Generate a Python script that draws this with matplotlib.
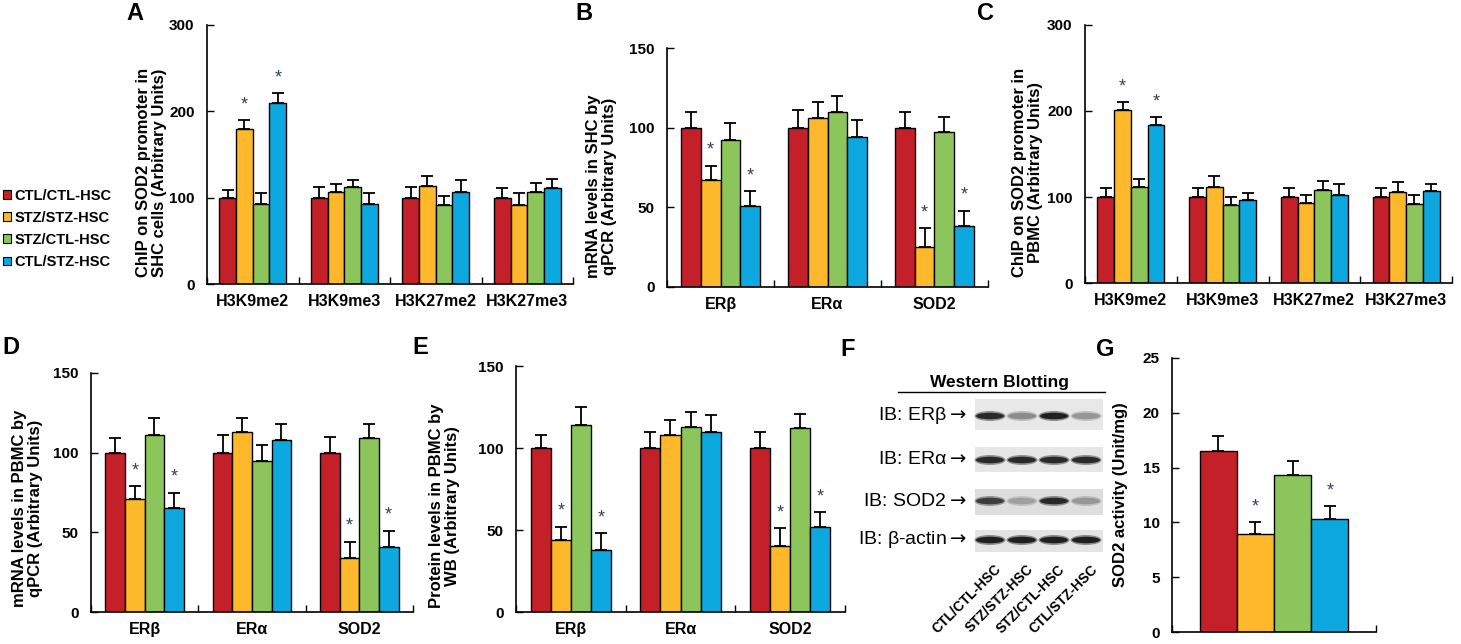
import numpy as np
import matplotlib
matplotlib.use("Agg")
import matplotlib.pyplot as plt
from matplotlib.patches import Patch, Ellipse, Rectangle
from matplotlib.ticker import NullFormatter

plt.rcParams['font.family'] = ['Liberation Sans', 'DejaVu Sans']

W, H = 1461, 644

GROUPS = ["CTL/CTL-HSC", "STZ/STZ-HSC", "STZ/CTL-HSC", "CTL/STZ-HSC"]
COLORS = ["#C4202A", "#FDB92B", "#8CC55B", "#0EA8E0"]
STAR_COLOR = "#35405C"

# panel A: ChIP in SHC cells
a_cats = ["H3K9me2", "H3K9me3", "H3K27me2", "H3K27me3"]
a_ctl_ctl = [100, 100, 100, 100]
a_stz_stz = [179, 106, 113, 92]
a_stz_ctl = [93, 112, 92, 106]
a_ctl_stz = [210, 93, 107, 111]
a_err = [[9, 12, 12, 11], [11, 10, 12, 13], [12, 9, 10, 11], [11, 12, 13, 11]]
a_stars = [(0, 1), (0, 3)]

# panel B: mRNA in SHC
b_cats = ["ERβ", "ERα", "SOD2"]
b_ctl_ctl = [100, 100, 100]
b_stz_stz = [67, 106, 25]
b_stz_ctl = [92, 110, 97]
b_ctl_stz = [51, 94, 38]
b_err = [[10, 11, 10], [9, 10, 12], [11, 10, 10], [9, 11, 10]]
b_stars = [(0, 1), (0, 3), (2, 1), (2, 3)]

# panel C: ChIP in PBMC
c_cats = ["H3K9me2", "H3K9me3", "H3K27me2", "H3K27me3"]
c_ctl_ctl = [100, 100, 100, 100]
c_stz_stz = [201, 112, 93, 106]
c_stz_ctl = [112, 91, 108, 92]
c_ctl_stz = [184, 96, 102, 107]
c_err = [[10, 10, 10, 10], [9, 12, 9, 11], [9, 9, 11, 10], [9, 9, 13, 8]]
c_stars = [(0, 1), (0, 3)]

# panel D: mRNA in PBMC
d_cats = ["ERβ", "ERα", "SOD2"]
d_ctl_ctl = [100, 100, 100]
d_stz_stz = [71, 113, 34]
d_stz_ctl = [111, 95, 109]
d_ctl_stz = [65, 108, 41]
d_err = [[9, 11, 10], [8, 9, 10], [11, 10, 9], [10, 10, 10]]
d_stars = [(0, 1), (0, 3), (2, 1), (2, 3)]

# panel E: protein in PBMC
e_cats = ["ERβ", "ERα", "SOD2"]
e_ctl_ctl = [100, 100, 100]
e_stz_stz = [44, 108, 40]
e_stz_ctl = [114, 113, 112]
e_ctl_stz = [38, 110, 52]
e_err = [[8, 10, 10], [8, 9, 11], [11, 9, 9], [10, 10, 9]]
e_stars = [(0, 1), (0, 3), (2, 1), (2, 3)]

# panel G: SOD2 activity
g_values = [16.5, 8.9, 14.3, 10.3]
g_err = [1.4, 1.1, 1.3, 1.2]
g_stars = [(0, 1), (0, 3)]

# panel F: western blot band strength (0 = none, 1 = dark)
blot_labels = ["IB: ERβ", "IB: ERα", "IB: SOD2", "IB: β-actin"]
band_erb = [0.95, 0.45, 1.0, 0.4]
band_era = [0.95, 0.95, 0.95, 0.95]
band_sod2 = [0.85, 0.35, 0.95, 0.4]
band_actin = [1.0, 1.0, 1.0, 1.0]


def px_axes(fig, left, top, right, bottom):
    return fig.add_axes([left / W, 1 - bottom / H, (right - left) / W, (bottom - top) / H])


def draw_groups(ax, cats, series, errs, stars, ymax, step, ylabel, lab_x, lab_y):
    x = np.arange(len(cats))
    width = 0.73 / len(series)
    tops = {}
    for k, (vals, err) in enumerate(zip(series, errs)):
        pos = x + (k - (len(series) - 1) / 2) * width
        vals = np.asarray(vals, dtype=float)
        err = np.asarray(err, dtype=float)
        ax.bar(pos, vals, width, color=COLORS[k], edgecolor="black", linewidth=1.0, zorder=2)
        ax.errorbar(pos, vals, yerr=[np.zeros_like(err), err], fmt="none", ecolor="black",
                    elinewidth=1.3, capsize=4, capthick=1.3, zorder=3)
        for i in range(len(cats)):
            tops[(i, k)] = (pos[i], vals[i] + err[i])
    for key in stars:
        px, py = tops[key]
        ax.annotate("*", (px, py), xytext=(0, 5), textcoords="offset points",
                    ha="center", va="bottom", fontsize=13, color=STAR_COLOR)

    ax.set_xlim(-0.5, len(cats) - 0.5)
    ax.set_ylim(0, ymax)
    ax.set_yticks(np.arange(0, ymax + step / 2, step))
    ax.set_xticks(np.arange(len(cats) + 1) - 0.5)
    ax.xaxis.set_major_formatter(NullFormatter())
    ax.set_xticks(x, minor=True)
    ax.set_xticklabels(cats, minor=True, fontsize=11.5, fontweight="bold")
    ax.tick_params(axis="x", which="major", direction="in", length=5, width=1)
    ax.tick_params(axis="x", which="minor", length=0, pad=7)
    ax.tick_params(axis="y", direction="in", length=5, width=1, pad=9, labelsize=11)
    for lab in ax.get_yticklabels():
        lab.set_fontweight("bold")
    for s in ["top", "right"]:
        ax.spines[s].set_visible(False)
    for s in ["left", "bottom"]:
        ax.spines[s].set_linewidth(1.2)
    ax.set_ylabel(ylabel, fontsize=12, fontweight="bold", linespacing=1.1)
    ax.yaxis.set_label_coords(lab_x, lab_y)


fig = plt.figure(figsize=(W / 100, H / 100), dpi=100)

ax_a = px_axes(fig, 207, 25, 573, 284)
draw_groups(ax_a, a_cats, [a_ctl_ctl, a_stz_stz, a_stz_ctl, a_ctl_stz], a_err, a_stars,
            300, 100, "ChIP on SOD2 promoter in\nSHC cells (Arbitrary Units)", -0.109, 0.43)

ax_b = px_axes(fig, 667, 48, 988, 287)
draw_groups(ax_b, b_cats, [b_ctl_ctl, b_stz_stz, b_stz_ctl, b_ctl_stz], b_err, b_stars,
            150, 50, "mRNA levels in SHC by\nqPCR (Arbitrary Units)", -0.156, 0.42)

ax_c = px_axes(fig, 1085, 25, 1452, 283)
draw_groups(ax_c, c_cats, [c_ctl_ctl, c_stz_stz, c_stz_ctl, c_ctl_stz], c_err, c_stars,
            300, 100, "ChIP on SOD2 promoter in\nPBMC (Arbitrary Units)", -0.114, 0.43)

ax_d = px_axes(fig, 91, 373, 413, 612)
draw_groups(ax_d, d_cats, [d_ctl_ctl, d_stz_stz, d_stz_ctl, d_ctl_stz], d_err, d_stars,
            150, 50, "mRNA levels in PBMC by\nqPCR (Arbitrary Units)", -0.149, 0.435)

ax_e = px_axes(fig, 516, 366, 845, 612)
draw_groups(ax_e, e_cats, [e_ctl_ctl, e_stz_stz, e_stz_ctl, e_ctl_stz], e_err, e_stars,
            150, 50, "Protein levels in PBMC by\nWB (Arbitrary Units)", -0.17, 0.43)

ax_g = px_axes(fig, 1172, 358, 1376, 632)
draw_groups(ax_g, [""], [[v] for v in g_values], [[e] for e in g_err], g_stars,
            25, 5, "SOD2 activity (Unit/mg)", -0.216, 0.5)

# legend
handles = [Patch(facecolor=c, edgecolor="black", linewidth=0.8) for c in COLORS]
fig.legend(handles, GROUPS, loc="upper left", bbox_to_anchor=(3 / W, 1 - 189 / H),
           frameon=False, handlelength=0.55, handleheight=0.55, handletextpad=0.25,
           labelspacing=0.55, borderpad=0, borderaxespad=0,
           prop={"size": 10.5, "weight": "bold"})

# panel F: western blot drawn in pixel coordinates
ax_f = fig.add_axes([860 / W, 0, 250 / W, (644 - 360) / H])
ax_f.set_xlim(860, 1110)
ax_f.set_ylim(644, 360)
ax_f.axis("off")
ax_f.text(1000, 382, "Western Blotting", ha="center", va="center", fontsize=12.5, fontweight="bold")
ax_f.plot([898, 1105], [392, 392], color="black", lw=1)

strips = [(399, 430, "#E8E8E8"), (447, 472, "#E6E6E6"), (489, 515, "#DEDEDE"), (530, 552, "#E4E4E4")]
bands = [band_erb, band_era, band_sod2, band_actin]
band_y = [416, 460, 501, 540]
lane_x0, lane_step = 990, 32
for (t, b, col), row, yc, lab in zip(strips, bands, band_y, blot_labels):
    ax_f.add_patch(Rectangle((975, t), 128, b - t, facecolor=col, edgecolor="none"))
    for i, strength in enumerate(row):
        g = 0.9 - 0.78 * strength
        ax_f.add_patch(Ellipse((lane_x0 + lane_step * i, yc), 31, 10,
                               facecolor=(g, g, g), edgecolor="none", alpha=0.45))
        ax_f.add_patch(Ellipse((lane_x0 + lane_step * i, yc), 28, 6.5,
                               facecolor=(g, g, g), edgecolor="none"))
    ax_f.text(967, yc, lab + r"$\rightarrow$", ha="right", va="center", fontsize=14)

for i, name in enumerate(GROUPS):
    ax_f.text(lane_x0 + lane_step * i + 4, 562, name, rotation=45, rotation_mode="anchor",
              ha="right", va="top", fontsize=10, fontweight="bold")

# panel letters
for letter, (lx, ly) in zip("ABCDEFG", [(135, 14), (584, 14), (986, 14), (11, 347),
                                         (420, 347), (848, 349), (1105, 350)]):
    fig.text(lx / W, 1 - ly / H, letter, ha="center", va="center", fontsize=17, fontweight="bold")

fig.savefig("out.png", dpi=100)
